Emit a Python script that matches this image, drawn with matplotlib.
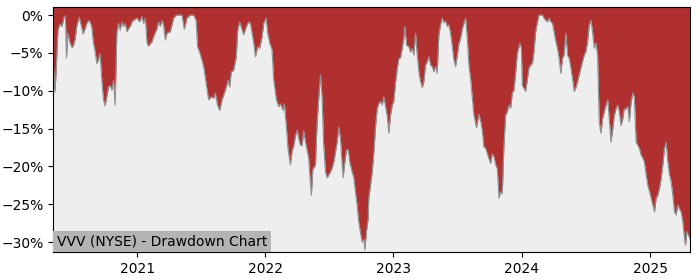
import matplotlib
matplotlib.use("Agg")
import matplotlib.pyplot as plt
from matplotlib.ticker import PercentFormatter
import pandas as pd

# drawdown readings: time as decimal year, drawdown in percent
years = [
    2020.346, 2020.359, 2020.367, 2020.383, 2020.398, 2020.414, 2020.430, 2020.441,
    2020.449, 2020.461, 2020.477, 2020.492, 2020.504, 2020.516, 2020.531, 2020.549,
    2020.563, 2020.578, 2020.594, 2020.609, 2020.627, 2020.645, 2020.659, 2020.672,
    2020.685, 2020.698, 2020.711, 2020.724, 2020.737, 2020.750, 2020.763, 2020.776,
    2020.789, 2020.802, 2020.815, 2020.828, 2020.841, 2020.854, 2020.867, 2020.880,
    2020.893, 2020.906, 2020.920, 2020.932, 2020.945, 2020.959, 2020.971, 2020.998,
    2021.018, 2021.037, 2021.049, 2021.063, 2021.076, 2021.088, 2021.115, 2021.133,
    2021.154, 2021.166, 2021.180, 2021.193, 2021.205, 2021.219, 2021.232, 2021.258,
    2021.284, 2021.305, 2021.349, 2021.367, 2021.388, 2021.414, 2021.440, 2021.459,
    2021.471, 2021.492, 2021.518, 2021.539, 2021.557, 2021.576, 2021.596, 2021.609,
    2021.627, 2021.643, 2021.662, 2021.688, 2021.709, 2021.721, 2021.734, 2021.752,
    2021.773, 2021.784, 2021.799, 2021.810, 2021.830, 2021.852, 2021.870, 2021.883,
    2021.909, 2021.922, 2021.940, 2021.955, 2021.974, 2021.987, 2022.005, 2022.018,
    2022.034, 2022.052, 2022.065, 2022.086, 2022.104, 2022.117, 2022.138, 2022.148,
    2022.164, 2022.176, 2022.195, 2022.209, 2022.221, 2022.234, 2022.248, 2022.260,
    2022.273, 2022.287, 2022.299, 2022.313, 2022.326, 2022.338, 2022.352, 2022.359,
    2022.370, 2022.391, 2022.404, 2022.416, 2022.430, 2022.443, 2022.455, 2022.469,
    2022.482, 2022.495, 2022.508, 2022.521, 2022.534, 2022.547, 2022.560, 2022.573,
    2022.586, 2022.599, 2022.607, 2022.617, 2022.633, 2022.646, 2022.659, 2022.677,
    2022.690, 2022.703, 2022.716, 2022.729, 2022.742, 2022.755, 2022.768, 2022.776,
    2022.789, 2022.802, 2022.807, 2022.820, 2022.834, 2022.846, 2022.859, 2022.873,
    2022.885, 2022.898, 2022.912, 2022.924, 2022.938, 2022.951, 2022.963, 2022.977,
    2022.990, 2023.002, 2023.016, 2023.029, 2023.041, 2023.055, 2023.068, 2023.080,
    2023.088, 2023.102, 2023.120, 2023.133, 2023.146, 2023.159, 2023.172, 2023.185,
    2023.198, 2023.211, 2023.224, 2023.237, 2023.250, 2023.263, 2023.276, 2023.289,
    2023.302, 2023.315, 2023.328, 2023.341, 2023.354, 2023.367, 2023.380, 2023.393,
    2023.406, 2023.420, 2023.432, 2023.445, 2023.459, 2023.471, 2023.484, 2023.498,
    2023.510, 2023.523, 2023.537, 2023.549, 2023.563, 2023.576, 2023.588, 2023.602,
    2023.627, 2023.648, 2023.666, 2023.680, 2023.693, 2023.705, 2023.719, 2023.732,
    2023.745, 2023.758, 2023.771, 2023.784, 2023.797, 2023.810, 2023.823, 2023.836,
    2023.849, 2023.862, 2023.875, 2023.888, 2023.901, 2023.914, 2023.927, 2023.940,
    2023.953, 2023.966, 2023.987, 2023.998, 2024.005, 2024.018, 2024.031, 2024.045,
    2024.057, 2024.070, 2024.084, 2024.096, 2024.109, 2024.123, 2024.135, 2024.148,
    2024.162, 2024.174, 2024.188, 2024.201, 2024.213, 2024.227, 2024.240, 2024.252,
    2024.266, 2024.279, 2024.291, 2024.305, 2024.318, 2024.330, 2024.344, 2024.357,
    2024.370, 2024.383, 2024.396, 2024.409, 2024.422, 2024.435, 2024.448, 2024.461,
    2024.474, 2024.487, 2024.500, 2024.513, 2024.526, 2024.539, 2024.552, 2024.565,
    2024.578, 2024.591, 2024.604, 2024.617, 2024.630, 2024.643, 2024.656, 2024.670,
    2024.682, 2024.695, 2024.709, 2024.721, 2024.734, 2024.748, 2024.760, 2024.773,
    2024.787, 2024.799, 2024.813, 2024.826, 2024.838, 2024.852, 2024.865, 2024.877,
    2024.891, 2024.904, 2024.916, 2024.930, 2024.943, 2024.955, 2024.969, 2024.982,
    2024.995, 2025.008, 2025.021, 2025.034, 2025.047, 2025.060, 2025.073, 2025.086,
    2025.099, 2025.112, 2025.125, 2025.138, 2025.151, 2025.164, 2025.177, 2025.190,
    2025.203, 2025.216, 2025.229, 2025.242, 2025.255, 2025.268, 2025.276, 2025.287,
    2025.299, 2025.313,
]
drawdown = [
    -6.2, -10.2, -8.0, -2.0, -1.2, -1.5, -0.3, -0.1,
    -5.7, -2.4, -3.7, -4.3, -4.0, -3.2, -1.3, -0.3,
    -1.3, -2.5, -1.8, -1.0, -0.7, -1.5, -3.7, -4.8,
    -6.4, -5.9, -5.1, -8.6, -11.2, -12.0, -10.8, -9.5,
    -9.3, -9.9, -8.6, -11.9, -2.4, -1.1, -2.0, -0.9,
    -1.5, -1.1, -2.2, -1.8, -1.5, -0.9, -0.7, -0.4,
    -0.9, -0.2, -1.1, -0.4, -3.7, -4.1, -3.5, -2.6,
    -1.8, -0.9, -1.5, -0.7, -1.3, -3.3, -2.4, -2.2,
    -0.4, 0.0, 0.0, -1.9, -0.4, 0.0, 0.0, -0.7,
    -4.2, -5.2, -6.8, -9.2, -11.2, -10.8, -11.0, -10.3,
    -11.9, -12.6, -11.2, -9.9, -8.6, -9.5, -7.5, -7.3,
    -5.5, -2.0, -0.9, -1.5, -2.6, -1.5, -0.9, -1.1,
    -3.7, -5.5, -4.2, -4.4, -2.9, -1.1, -0.4, -2.4,
    -3.7, -4.6, -8.6, -11.2, -12.1, -11.7, -12.6, -11.7,
    -14.8, -17.6, -19.8, -17.9, -17.3, -16.0, -15.2, -16.3,
    -17.2, -17.2, -15.3, -16.8, -17.9, -18.9, -22.5, -23.8,
    -20.4, -19.8, -14.1, -11.1, -7.9, -11.1, -17.2, -20.7,
    -21.5, -21.1, -20.7, -20.2, -19.4, -18.1, -16.8, -14.8,
    -16.3, -19.8, -21.5, -19.8, -17.8, -17.8, -19.5, -20.7,
    -21.5, -23.4, -25.1, -27.4, -28.7, -30.0, -29.6, -31.0,
    -28.6, -26.9, -24.2, -22.5, -20.7, -18.3, -14.9, -12.3,
    -11.7, -11.4, -11.9, -10.8, -12.1, -13.4, -15.6, -13.2,
    -11.9, -11.4, -8.9, -7.1, -5.8, -5.6, -4.4, -3.1,
    -1.5, -4.0, -4.2, -4.9, -4.4, -5.3, -2.4, -5.3,
    -7.5, -8.8, -9.6, -8.8, -6.6, -6.2, -5.5, -6.6,
    -6.8, -7.5, -6.8, -7.7, -2.6, -1.3, -0.4, -1.0,
    -0.8, -1.5, -1.3, -2.4, -4.2, -5.9, -6.8, -5.3,
    -3.8, -3.1, -1.8, -1.1, -0.4, -3.1, -6.6, -8.5,
    -13.2, -14.9, -13.1, -14.0, -15.3, -17.4, -17.6, -18.3,
    -19.0, -19.6, -18.3, -18.7, -19.8, -20.3, -24.2, -23.3,
    -23.6, -17.2, -13.2, -12.8, -11.9, -12.3, -10.3, -9.9,
    -7.7, -5.1, -3.7, -4.4, -9.3, -9.7, -10.1, -8.4,
    -7.0, -6.6, -6.4, -4.8, -2.2, -0.9, 0.0, 0.0,
    0.0, -0.4, -0.7, -0.9, -0.4, -0.9, -1.1, -2.2,
    -3.5, -4.4, -5.7, -7.7, -5.7, -5.3, -2.4, -5.3,
    -5.7, -7.0, -8.4, -10.1, -9.6, -8.8, -7.9, -7.0,
    -6.1, -5.3, -4.8, -3.5, -1.3, -0.7, -2.2, -4.4,
    -3.7, -5.3, -14.1, -15.6, -13.7, -12.8, -11.9, -11.2,
    -13.7, -16.8, -15.1, -13.3, -12.4, -11.9, -12.8, -14.6,
    -13.7, -12.4, -12.4, -12.1, -14.1, -11.5, -10.3, -10.8,
    -16.8, -17.2, -17.6, -18.5, -18.9, -19.4, -21.1, -22.5,
    -23.3, -24.2, -25.1, -26.0, -24.2, -23.8, -22.9, -21.6,
    -19.8, -17.6, -16.8, -19.4, -21.1, -22.0, -23.8, -26.0,
    -26.4, -25.1, -25.6, -26.0, -27.3, -29.5, -30.4, -28.6,
    -29.1, -29.6,
]
title = 'VVV (NYSE) - Drawdown Chart'


def to_date(y):
    yr = int(y)
    start = pd.Timestamp(year=yr, month=1, day=1)
    days = (pd.Timestamp(year=yr + 1, month=1, day=1) - start).days
    return start + pd.Timedelta(days=(y - yr) * days)


dates = [to_date(y) for y in years]

fig = plt.figure(figsize=(7, 2.8), dpi=100)
ax = fig.add_axes([0.076, 0.1, 0.91, 0.875])
ax.set_facecolor('#eeeeee')

ax.fill_between(dates, drawdown, 5, color='#b03030', linewidth=0)
ax.plot(dates, drawdown, color='#8c9696', linewidth=0.8)

ax.set_xlim(dates[0], dates[-1])
ax.set_ylim(-31.3, 1.06)
ax.set_yticks([0, -5, -10, -15, -20, -25, -30])
ax.yaxis.set_major_formatter(PercentFormatter(xmax=100, decimals=0))
ax.set_xticks([pd.Timestamp(f'{y}-01-01') for y in range(2021, 2026)])
ax.set_xticklabels([str(y) for y in range(2021, 2026)])
ax.tick_params(labelsize=10)

# label box sits in the lower-left corner of the axes
ax.annotate(title, xy=(0, 0), xycoords='axes fraction',
            xytext=(2.5, 2.5), textcoords='offset points',
            ha='left', va='bottom', fontsize=10,
            bbox=dict(facecolor='#b4b4b4', edgecolor='none', pad=2.5))

fig.savefig('out.png', dpi=100)
